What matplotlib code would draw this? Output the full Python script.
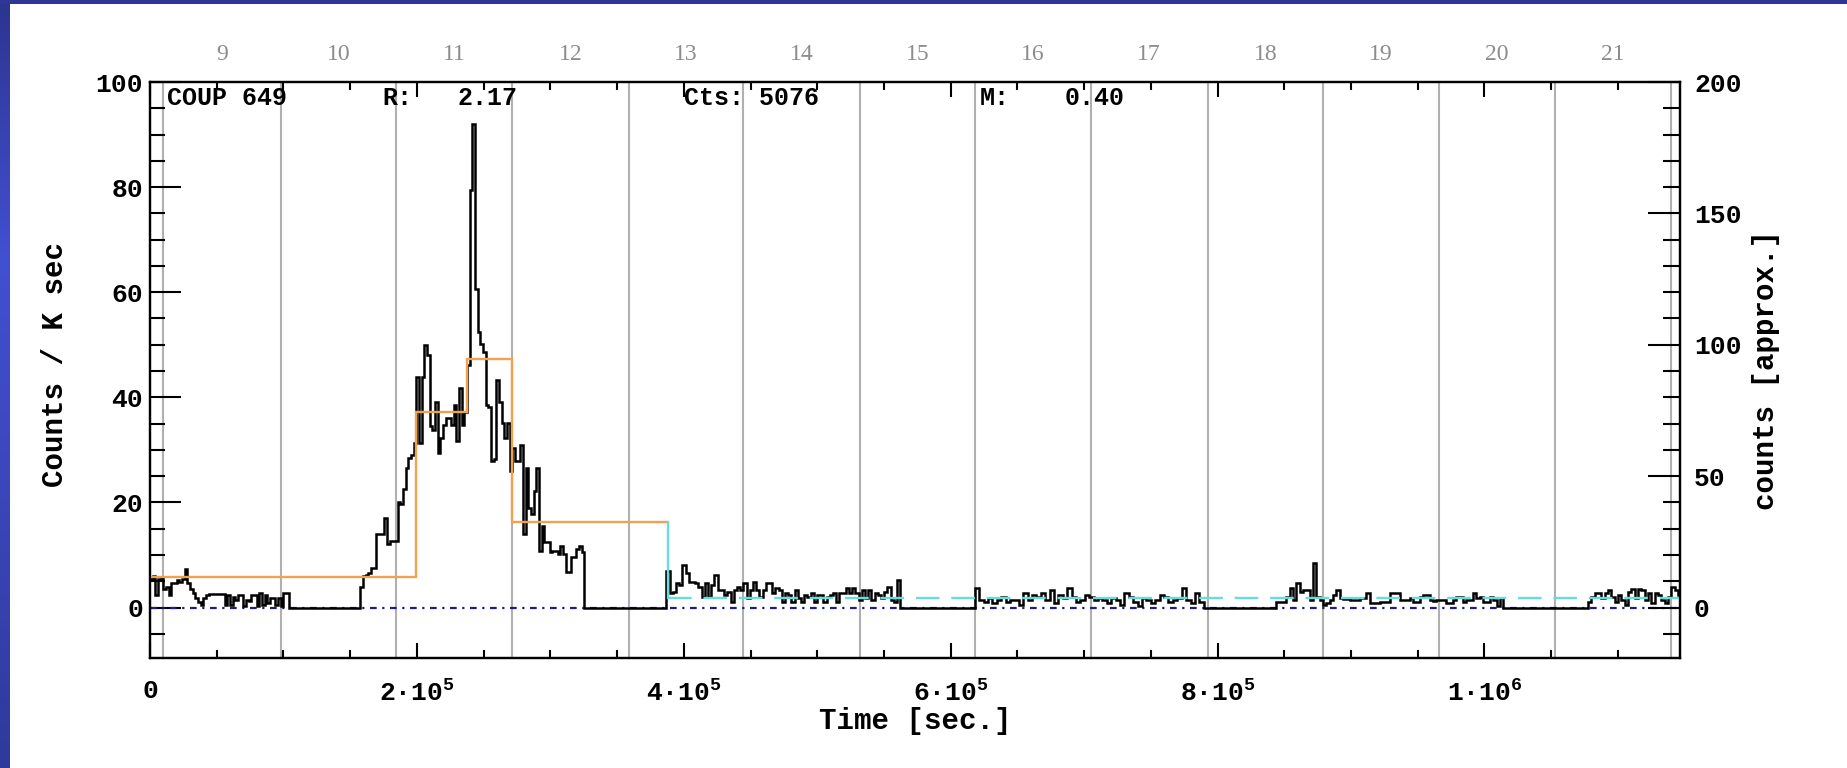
import numpy as np
import matplotlib
matplotlib.use("Agg")
import matplotlib.pyplot as plt
from matplotlib.ticker import MultipleLocator, FixedLocator
from matplotlib.colors import LinearSegmentedColormap

plt.rcParams['font.family'] = ['Liberation Mono', 'DejaVu Sans Mono']
plt.rcParams['font.weight'] = 'bold'
plt.rcParams['axes.labelweight'] = 'bold'
plt.rcParams['mathtext.fontset'] = 'custom'
plt.rcParams['mathtext.rm'] = 'Liberation Mono:bold'
plt.rcParams['mathtext.bf'] = 'Liberation Mono:bold'

# light curve segments: (start time [s], bin width [s], rates [counts / ksec])
seg1_start, seg1_width = 0.0, 2000.0
seg1 = [5.5, 6.0, 2.4, 5.5, 5.8, 3.6, 4.0, 2.4, 4.6, 4.6,
        5.2, 4.9, 5.5, 7.3, 4.6, 3.6, 2.7, 1.8, 1.0, 0.5,
        1.8, 2.4, 2.5, 2.5, 2.5, 2.5, 2.5, 2.5, 0.5, 2.4,
        0.5, 2.1, 1.5, 2.4, 2.4, 0.2, 1.5, 1.2, 2.4, 2.4,
        0.2, 2.7, 0.5, 2.4, 0.8, 1.8, 1.8, 0.5, 1.8, 0.2,
        2.7, 2.7]

seg2_start, seg2_width = 1.575e5, 2000.0
seg2 = [4.0, 6.0, 6.2, 6.5, 7.6, 7.6, 14.0, 14.0, 14.0, 17.0,
        12.0, 12.6, 12.6, 12.6, 20.0,
        19.7, 22.5, 26.6, 28.5, 29.0, 31.3, 43.9, 31.3, 43.9, 50.0,
        48.0, 34.5, 33.8, 39.2, 29.4, 32.3, 34.8, 36.0, 36.0, 34.8,
        38.6, 31.6, 41.7, 34.8, 37.3, 46.1, 79.5, 92.0, 60.6, 52.4,
        50.2, 48.6, 38.6, 38.2, 27.9, 28.2, 43.3, 39.2, 35.1, 32.3,
        35.1, 26.0, 30.4, 27.9, 27.9, 31.0, 14.0, 26.6, 19.0, 17.8,
        22.2, 26.6, 10.8, 15.6, 12.4, 12.4, 10.5, 10.8, 10.8, 10.2,
        11.8, 10.2, 6.7, 6.7, 9.6, 9.6, 11.2, 11.8, 10.5]

seg3_start, seg3_width = 3.87e5, 2400.0
seg3 = [7.0, 2.7, 3.0, 4.6, 4.3, 8.1, 6.5, 4.9, 4.9, 4.6,
        4.0, 2.1, 4.6, 2.1, 4.3, 6.2, 3.3, 3.3, 2.4, 3.0,
        1.1, 3.3, 4.0, 3.3, 4.7, 1.8, 3.3, 4.9, 3.3, 2.1,
        3.3, 4.6, 4.6, 2.7, 3.7, 3.3, 1.1, 2.7, 2.4, 1.1,
        3.3, 1.8, 1.1, 2.4, 2.1, 2.7, 1.1, 2.4, 2.4, 1.1,
        2.1, 2.4, 2.7, 1.1, 2.7, 2.7, 3.7, 2.7, 3.7, 2.7,
        1.4, 3.3, 1.8, 3.3, 1.4, 2.7, 2.4, 1.8, 3.0, 4.0,
        1.4, 1.1, 5.2]

seg4_start, seg4_width = 6.18e5, 3300.0
seg4 = [3.7, 1.4, 1.1, 1.8, 0.8, 1.4, 2.1, 1.1, 1.4, 1.4,
        0.5, 2.7, 1.4, 2.4, 2.1, 2.7, 1.4, 3.3, 0.8, 2.4,
        1.8, 3.7, 2.1, 1.1, 1.4, 2.4, 2.1, 1.4, 1.8, 1.4,
        0.8, 1.8, 1.4, 0.5, 2.7, 2.1, 1.1, 0.2, 1.8, 1.4,
        0.8, 1.4, 2.4, 2.1, 1.1, 1.4, 1.8, 3.7, 1.4, 0.8,
        2.7, 1.1]

seg5_start, seg5_width = 8.44e5, 2500.0
seg5 = [1.1, 1.1, 1.1, 2.0, 3.8, 1.4, 4.6, 3.0, 3.3, 3.3,
        1.4, 8.5, 2.1, 1.4, 0.5, 0.8, 1.4, 2.4, 3.3, 1.8,
        1.6, 1.6, 1.4, 1.4, 1.4, 1.8, 1.8, 2.7, 0.8, 0.8,
        0.8, 1.1, 1.1, 1.1, 2.7, 2.7, 2.7, 1.4, 1.4, 1.4,
        1.8, 1.1, 1.1, 2.1, 2.4, 2.4, 1.4, 1.3, 1.4, 1.4,
        1.4, 0.8, 0.8, 1.4, 2.1, 2.1, 1.1, 1.4, 1.4, 2.7,
        1.8, 2.1, 1.1, 1.1, 2.1, 1.4, 0.2, 1.8]

seg6_start, seg6_width = 1.0775e6, 2500.0
seg6 = [1.1, 2.1, 2.7, 2.7, 1.8, 2.7, 3.3, 2.1, 1.1, 2.4,
        1.4, 0.5, 3.0, 3.5, 1.8, 3.5, 3.3, 1.4, 2.7, 0.8,
        2.7, 2.4, 1.4, 0.8, 2.1, 4.0, 3.3, 2.4]

# Bayesian blocks (orange) and quiescent level (cyan)
block_edges = [0.0, 1.99e5, 2.375e5, 2.713e5, 3.88e5]
block_rates = [5.8, 37.2, 47.3, 16.3]
quiet_level = 1.8

# day boundaries and day numbers
day_edges = [1.0e4, 9.85e4, 1.84e5, 2.715e5, 3.59e5, 4.445e5, 5.32e5,
             6.18e5, 7.05e5, 7.925e5, 8.79e5, 9.66e5, 1.053e6, 1.14e6]
day_numbers = list(range(9, 22))

x_max = 1.1465e6
x_ticks = [0, 2e5, 4e5, 6e5, 8e5, 1e6]
x_ticklabels = ['0', '2·10$^{5}$', '4·10$^{5}$', '6·10$^{5}$', '8·10$^{5}$', '1·10$^{6}$']

# ---- build stairs
segs = [(seg1_start, seg1_width, seg1), (seg2_start, seg2_width, seg2),
        (seg3_start, seg3_width, seg3), (seg4_start, seg4_width, seg4),
        (seg5_start, seg5_width, seg5), (seg6_start, seg6_width, seg6)]
edges = [segs[0][0]]
rates = []
for start, width, vals in segs:
    if edges[-1] < start:
        rates.append(0.0)
        edges.append(start)
    edges.extend(start + width * np.arange(1, len(vals) + 1))
    rates.extend(vals)

fig = plt.figure(figsize=(18.47, 7.68), dpi=100)

# blue slide border
cmap = LinearSegmentedColormap.from_list('edge', ['#2c3590', '#4250d2', '#3a46b8', '#2f3a9c'])
bax = fig.add_axes([0, 0, 10 / 1847, 1])
bax.imshow(np.linspace(0, 1, 200).reshape(-1, 1), aspect='auto', cmap=cmap)
bax.axis('off')
tax = fig.add_axes([0, 1 - 4 / 768, 1, 4 / 768])
tax.set_facecolor('#2e3796')
tax.set_xticks([]); tax.set_yticks([])
for s in tax.spines.values():
    s.set_visible(False)

ax = fig.add_axes([150 / 1847, 1 - 658 / 768, 1530 / 1847, 576 / 768])
ax.set_xlim(0, x_max)
ax.set_ylim(-9.6, 100)

for d in day_edges:
    ax.axvline(d, color='#b0b0b0', lw=1.5, zorder=1)

ax.plot([0, x_max], [0, 0], color='#1c1c8a', lw=1.6, linestyle=(0, (3, 2.5, 1, 2.5)), zorder=2)
ax.stairs(rates, edges, baseline=None, color='black', lw=1.8, zorder=3)
ax.stairs(block_rates, block_edges, baseline=None, color='#f0a250', lw=1.7, zorder=4)
ax.plot([block_edges[-1], block_edges[-1]], [block_rates[-1], quiet_level],
        color='#66dede', lw=1.7, zorder=4)
ax.plot([block_edges[-1], x_max], [quiet_level, quiet_level], color='#66dede',
        lw=1.7, linestyle=(0, (10, 5)), zorder=4)

# ticks
ax.xaxis.set_major_locator(FixedLocator(x_ticks))
ax.set_xticklabels(x_ticklabels)
ax.xaxis.set_minor_locator(MultipleLocator(5e4))
ax.yaxis.set_major_locator(MultipleLocator(20))
ax.yaxis.set_minor_locator(MultipleLocator(5))
ax.tick_params(axis='x', which='both', direction='in', top=True, bottom=True,
               width=1.5, labelsize=19, pad=15)
ax.tick_params(axis='x', which='major', length=11)
ax.tick_params(axis='x', which='minor', length=5.5)
ax.tick_params(axis='y', which='both', direction='in', left=True, right=False,
               width=1.5, labelsize=19, pad=5)
ax.tick_params(axis='y', which='major', length=22)
ax.tick_params(axis='y', which='minor', length=11)
for s in ax.spines.values():
    s.set_linewidth(1.6)

ax2 = ax.twinx()
ax2.set_ylim(-19.2, 200)
ax2.yaxis.set_major_locator(MultipleLocator(50))
ax2.yaxis.set_minor_locator(MultipleLocator(10))
ax2.tick_params(axis='y', which='both', direction='in', right=True, width=1.5,
                labelsize=19, pad=10)
ax2.tick_params(axis='y', which='major', length=23)
ax2.tick_params(axis='y', which='minor', length=12)
for s in ax2.spines.values():
    s.set_linewidth(1.6)

# labels
ax.set_xlabel('Time [sec.]', fontsize=21, fontweight='bold', va='center')
ax.xaxis.set_label_coords(0.5, -0.109)
ax.set_ylabel('Counts / K sec', fontsize=21, fontweight='bold', va='center')
ax.yaxis.set_label_coords(-0.062, 0.51)
ax2.set_ylabel('counts [approx.]', fontsize=21, fontweight='bold', va='center', rotation=90)
ax2.yaxis.set_label_coords(1.056, 0.5)

# header texts
hy = 0.96
ax.text(0.0111, hy, 'COUP 649', transform=ax.transAxes, fontsize=18)
ax.text(0.1516, hy, 'R:', transform=ax.transAxes, fontsize=18)
ax.text(0.2010, hy, '2.17', transform=ax.transAxes, fontsize=18)
ax.text(0.3487, hy, 'Cts: 5076', transform=ax.transAxes, fontsize=18)
ax.text(0.5425, hy, 'M:', transform=ax.transAxes, fontsize=18)
ax.text(0.5980, hy, '0.40', transform=ax.transAxes, fontsize=18)

# day numbers on top
for i, n in enumerate(day_numbers):
    xc = 0.5 * (day_edges[i] + day_edges[i + 1])
    ax.text(xc, 1.047, str(n), transform=ax.get_xaxis_transform(), ha='center',
            va='center', fontsize=17, color='#8c8c8c', family='Liberation Serif',
            fontweight='normal')

fig.savefig('out.png', dpi=100)
